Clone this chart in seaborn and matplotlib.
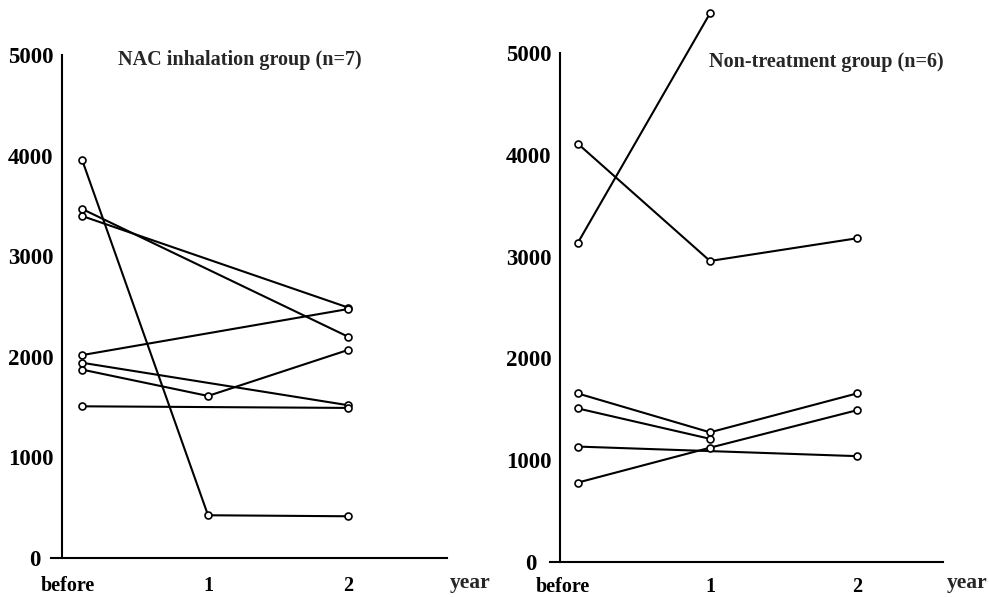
import numpy as np
import pandas as pd
import seaborn as sns
import matplotlib.pyplot as plt
import matplotlib.transforms as mtransforms

# time points: "before", year 1, year 2
time_labels = ['before', '1', '2']
time_pos = [0.1, 1, 2]

# NAC inhalation group, one row per patient (None = not measured)
nac_group = [
    [3960, 425, 415],
    [3470, None, 2200],
    [3400, None, 2490],
    [2017, None, 2475],
    [1941, None, 1519],
    [1873, 1611, 2068],
    [1508, None, 1492],
]

# Non-treatment group
non_group = [
    [4110, 2957, 3180],
    [3133, 5390, None],
    [1656, 1274, 1656],
    [1509, 1210, None],
    [1134, None, 1040],
    [780, 1123, 1491],
]

y_ticks = [0, 1000, 2000, 3000, 4000, 5000]


def to_long(group):
    rows = []
    for i, vals in enumerate(group):
        for x, v in zip(time_pos, vals):
            if v is not None:
                rows.append((i, x, v))
    return pd.DataFrame(rows, columns=['patient', 'time', 'value'])


sns.set_style('white')
plt.rcParams['font.family'] = ['Liberation Serif', 'DejaVu Serif']
plt.rcParams['font.weight'] = 'bold'

fig = plt.figure(figsize=(9.89, 5.97), dpi=100)
ax1 = fig.add_axes([0.0518, 0.0653, 0.4002, 0.9268])
ax2 = fig.add_axes([0.5559, 0.0586, 0.3976, 0.9379])

panels = [
    (ax1, nac_group, 'NAC inhalation group (n=7)', (-0.12, 2.707), -0.043, (0.36, 4950), (2.73, -250), 9, -13),
    (ax2, non_group, 'Non-treatment group (n=6)', (-0.09, 2.585), -0.02, (0.99, 4910), (2.61, -206), 6.5, -15),
]

for ax, group, title, xlim, yspine, tpos, ypos, xpad, zero_shift in panels:
    df = to_long(group)
    sns.lineplot(data=df, x='time', y='value', units='patient', estimator=None,
                 color='black', linewidth=1.5, marker='o', markersize=5,
                 markerfacecolor='white', markeredgecolor='black',
                 markeredgewidth=1.2, ax=ax, clip_on=False, legend=False)
    ax.set_xlim(*xlim)
    ax.set_ylim(0, 5500)
    ax.spines['top'].set_visible(False)
    ax.spines['right'].set_visible(False)
    ax.spines['left'].set_position(('data', yspine))
    ax.spines['left'].set_bounds(0, 5000)
    ax.spines['bottom'].set_bounds(xlim[0], xlim[1])
    for s in ['left', 'bottom']:
        ax.spines[s].set_linewidth(1.5)
        ax.spines[s].set_color('black')
    ax.set_xticks([0, 1, 2])
    ax.set_xticklabels(time_labels, fontsize=14.5, fontweight='bold')
    ax.set_yticks(y_ticks)
    ax.set_yticklabels([str(t) for t in y_ticks], fontsize=16.5, fontweight='bold')
    ax.tick_params(axis='x', direction='out', length=4, width=1.3, pad=xpad, colors='black')
    ax.tick_params(axis='y', direction='out', length=4.5, width=1.3, pad=1.5, colors='black')
    # the "0" label sits further left, clear of the extended x axis
    ax.yaxis.get_major_ticks()[0].tick1line.set_visible(False)
    zero_lbl = ax.get_yticklabels()[0]
    zero_lbl.set_transform(zero_lbl.get_transform() +
                           mtransforms.ScaledTranslation(zero_shift / 100, 0, fig.dpi_scale_trans))
    ax.set_xlabel('')
    ax.set_ylabel('')
    ax.text(tpos[0], tpos[1], title, fontsize=14.5, fontweight='bold', ha='left', va='center')
    ax.text(ypos[0], ypos[1], 'year', fontsize=15.5, fontweight='bold', ha='left',
            va='center', clip_on=False)

fig.savefig('out.png', dpi=100)
